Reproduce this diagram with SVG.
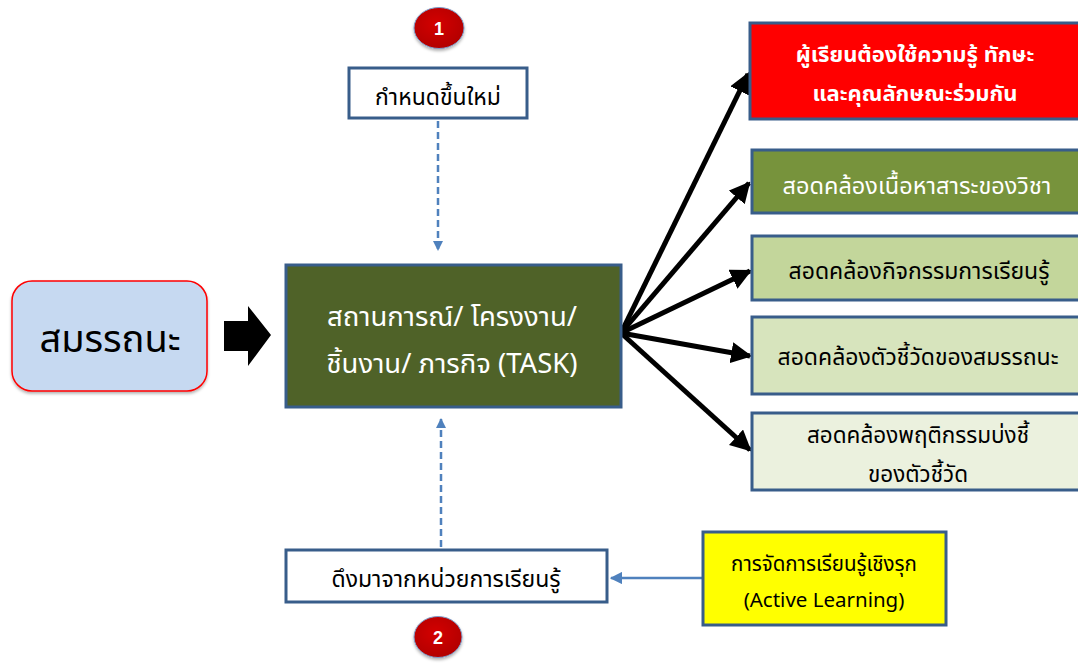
<svg xmlns="http://www.w3.org/2000/svg" width="1078" height="663" viewBox="0 0 1078 663">
<style>
.th{font-family:"Noto Sans Thai","Tahoma","Liberation Sans","DejaVu Sans",sans-serif;text-anchor:middle}
.box{stroke:#385D8A;stroke-width:3}
.w{fill:#FFFFFF}
.k{fill:#000000}
.fan{stroke:#000;stroke-width:5;fill:none;marker-end:url(#ah)}
.dash{stroke:#4F81BD;stroke-width:2.5;stroke-dasharray:7 4;fill:none;marker-end:url(#bh)}
.num{font-family:"Liberation Sans",Arial,sans-serif;font-weight:bold;font-size:18px;fill:#fff;text-anchor:middle}
</style>
<defs>
<marker id="ah" viewBox="0 0 10 10" refX="9" refY="5" markerWidth="4.2" markerHeight="4.2" orient="auto" markerUnits="strokeWidth">
<path d="M0,0 L10,5 L0,10 z" fill="#000"/>
</marker>
<marker id="bh" viewBox="0 0 10 10" refX="9" refY="5" markerWidth="4" markerHeight="4" orient="auto" markerUnits="strokeWidth">
<path d="M0,0 L10,5 L0,10 z" fill="#4F81BD"/>
</marker>
<marker id="sh" viewBox="0 0 10 10" refX="9" refY="5" markerWidth="5" markerHeight="5" orient="auto" markerUnits="strokeWidth">
<path d="M0,0 L10,5 L0,10 z" fill="#4F81BD"/>
</marker>
<radialGradient id="rg" cx="0.45" cy="0.4" r="0.65">
<stop offset="0" stop-color="#D40000"/>
<stop offset="1" stop-color="#B00000"/>
</radialGradient>
<filter id="ds" x="-20%" y="-20%" width="140%" height="150%">
<feDropShadow dx="0" dy="2" stdDeviation="1.5" flood-color="#000" flood-opacity="0.3"/>
</filter>
</defs>

<g id="connectors">
<line class="fan" x1="621" y1="333" x2="748" y2="74"/>
<line class="fan" x1="621" y1="333" x2="749" y2="183"/>
<line class="fan" x1="621" y1="333" x2="750" y2="271"/>
<line class="fan" x1="621" y1="333" x2="750" y2="356"/>
<line class="fan" x1="621" y1="333" x2="750" y2="450"/>
<line class="dash" x1="438" y1="121" x2="438" y2="250"/>
<line class="dash" x1="441" y1="547" x2="441" y2="419"/>
<line x1="703" y1="578" x2="611" y2="578" stroke="#4F81BD" stroke-width="2.5" marker-end="url(#sh)"/>
<path id="block-arrow" d="M224,321 L248,321 L248,306 L271,335 L248,366 L248,351 L224,351 z" fill="#000"/>
</g>

<g id="n-competency">
<rect x="12" y="281" width="195" height="110" rx="20" ry="20" fill="#C6D9F1" stroke="#FF0000" stroke-width="1.5" filter="url(#ds)"/>
<text class="th k" x="110" y="352" font-size="38">สมรรถนะ</text>
</g>

<g id="n-circle1">
<ellipse cx="439" cy="28" rx="25" ry="20.5" fill="url(#rg)" stroke="#7F9CC8" stroke-width="1" filter="url(#ds)"/>
<text class="num" x="439" y="35">1</text>
</g>

<g id="n-new">
<rect x="349" y="68" width="178" height="50" fill="#FFFFFF" class="box"/>
<text class="th k" x="438" y="105" font-size="23">กำหนดขึ้นใหม่</text>
</g>

<g id="n-task">
<rect x="286" y="265" width="335" height="142" fill="#4F6228" class="box"/>
<text class="th w" x="452" y="326" font-size="27.5">สถานการณ์/ โครงงาน/</text>
<text class="th w" x="452" y="373" font-size="27.5">ชิ้นงาน/ ภารกิจ (TASK)</text>
</g>

<g id="n-unit">
<rect x="286" y="550" width="321" height="52" fill="#FFFFFF" class="box"/>
<text class="th k" x="446" y="587" font-size="23">ดึงมาจากหน่วยการเรียนรู้</text>
</g>

<g id="n-circle2">
<ellipse cx="438" cy="637" rx="24" ry="20.5" fill="url(#rg)" stroke="#7F9CC8" stroke-width="1" filter="url(#ds)"/>
<text class="num" x="438" y="644">2</text>
</g>

<g id="n-active">
<rect x="703" y="532" width="243" height="93" fill="#FFFF00" class="box"/>
<text class="th k" x="824" y="571" font-size="20.5">การจัดการเรียนรู้เชิงรุก</text>
<text class="th k" x="824" y="607" font-size="20.5">(Active Learning)</text>
</g>

<g id="n-r1">
<rect x="750" y="23" width="340" height="96" fill="#FF0000" class="box"/>
<text class="th w" x="915" y="62" font-size="22" font-weight="bold">ผู้เรียนต้องใช้ความรู้ ทักษะ</text>
<text class="th w" x="915" y="101" font-size="22" font-weight="bold">และคุณลักษณะร่วมกัน</text>
</g>

<g id="n-r2">
<rect x="752" y="150" width="340" height="63" fill="#77933C" class="box"/>
<text class="th w" x="917" y="194" font-size="23.5">สอดคล้องเนื้อหาสาระของวิชา</text>
</g>

<g id="n-r3">
<rect x="752" y="236" width="340" height="64" fill="#C3D69B" class="box"/>
<text class="th k" x="919" y="279" font-size="23">สอดคล้องกิจกรรมการเรียนรู้</text>
</g>

<g id="n-r4">
<rect x="752" y="317" width="340" height="77" fill="#D7E4BD" class="box"/>
<text class="th k" x="918" y="365" font-size="23">สอดคล้องตัวชี้วัดของสมรรถนะ</text>
</g>

<g id="n-r5">
<rect x="752" y="413" width="340" height="77" fill="#EBF1DE" class="box"/>
<text class="th k" x="918" y="443" font-size="22.5">สอดคล้องพฤติกรรมบ่งชี้</text>
<text class="th k" x="918" y="482" font-size="22.5">ของตัวชี้วัด</text>
</g>
</svg>
